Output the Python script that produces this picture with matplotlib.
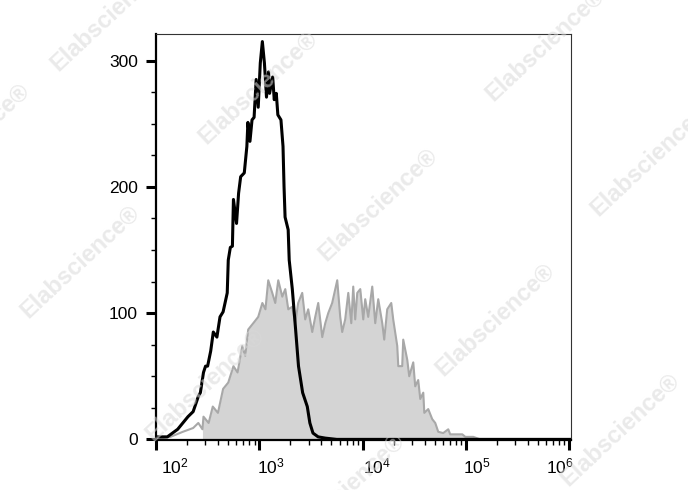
import numpy as np
import matplotlib
matplotlib.use("Agg")
import matplotlib.pyplot as plt
from matplotlib.ticker import FixedLocator, LogLocator, NullFormatter, MultipleLocator
from matplotlib.transforms import ScaledTranslation

plt.rcParams['font.family'] = ['Liberation Sans', 'DejaVu Sans']
plt.rcParams['mathtext.fontset'] = 'custom'
plt.rcParams['mathtext.rm'] = 'Liberation Sans'
plt.rcParams['mathtext.it'] = 'Liberation Sans'

# isotype control (black outline), log10 of intensity and counts
ctrl_log = [1.99, 2.11, 2.21, 2.26, 2.31, 2.36, 2.41, 2.43, 2.46, 2.48, 2.50, 2.53,
            2.555, 2.59, 2.62, 2.65, 2.69, 2.70, 2.72, 2.74, 2.75, 2.78, 2.80, 2.82,
            2.855, 2.88, 2.89, 2.91, 2.93, 2.95, 2.97, 2.99, 3.01, 3.03, 3.05, 3.07,
            3.09, 3.10, 3.13, 3.145, 3.165, 3.18, 3.21, 3.23, 3.24, 3.25, 3.28, 3.29,
            3.32, 3.35, 3.38, 3.42, 3.465, 3.49, 3.52, 3.57, 3.64, 3.75, 6.05]
ctrl_cnt = [2, 2, 8, 13, 18, 22, 34, 37, 53, 58, 58, 70,
            85, 81, 97, 101, 116, 142, 152, 153, 190, 171, 195, 208,
            211, 232, 251, 236, 253, 255, 285, 263, 298, 315, 298, 271,
            291, 274, 287, 269, 274, 257, 253, 232, 200, 176, 166, 142,
            119, 89, 58, 37, 26, 13, 5, 2, 1, 0, 0]

# stained sample (grey filled)
stain_log = [1.99, 2.14, 2.26, 2.36, 2.41, 2.45, 2.46, 2.51, 2.55, 2.60, 2.65, 2.70,
             2.75, 2.79, 2.835, 2.864, 2.893, 2.942, 2.99, 3.03, 3.06, 3.087, 3.126, 3.155,
             3.184, 3.223, 3.252, 3.281, 3.319, 3.348, 3.377, 3.416, 3.445, 3.474, 3.513, 3.542,
             3.571, 3.61, 3.639, 3.668, 3.706, 3.755, 3.784, 3.803, 3.832, 3.862, 3.891, 3.91,
             3.929, 3.949, 3.978, 4.007, 4.026, 4.055, 4.094, 4.123, 4.152, 4.191, 4.21, 4.239,
             4.278, 4.297, 4.336, 4.346, 4.384, 4.394, 4.433, 4.452, 4.491, 4.51, 4.539, 4.559,
             4.588, 4.598, 4.636, 4.675, 4.704, 4.733, 4.781, 4.83, 4.849, 4.917, 4.966, 4.995,
             5.072, 5.14, 6.05]
stain_cnt = [0, 2, 6, 9, 13, 8, 18, 13, 26, 21, 40, 45,
             58, 53, 74, 66, 87, 92, 97, 108, 103, 126, 116, 108,
             126, 113, 119, 103, 105, 92, 108, 116, 95, 103, 85, 97,
             108, 81, 92, 100, 108, 126, 97, 85, 95, 116, 92, 121,
             95, 116, 119, 95, 111, 97, 121, 92, 111, 92, 79, 103,
             108, 95, 74, 58, 58, 79, 63, 50, 61, 42, 47, 32,
             37, 21, 24, 16, 13, 6, 5, 8, 4, 4, 4, 2,
             2, 0, 0]
fill_start = 2.45  # grey fill begins here, outline only to the left

x_ticks = [1e2, 1e3, 1e4, 1e5, 1e6]
x_tick_labels = ['$10^{2}$', '$10^{3}$', '$10^{4}$', '$10^{5}$', '$10^{6}$']
y_ticks = [0, 100, 200, 300]

fig = plt.figure(figsize=(6.88, 4.90), dpi=100)
ax = fig.add_axes([0.2267, 0.102, 0.6035, 0.8286])

sx = 10 ** np.array(stain_log)
sy = np.array(stain_cnt)
ax.fill_between(sx, 0, sy, where=np.array(stain_log) >= fill_start,
                color='#d4d4d4', linewidth=0, zorder=1)
ax.plot(sx, sy, color='#a8a8a8', lw=1.5, zorder=2)
ax.plot(10 ** np.array(ctrl_log), ctrl_cnt, color='black', lw=2.2, zorder=3)

ax.set_xscale('log')
ax.set_xlim(10 ** 2.0, 10 ** 6.02)
ax.set_ylim(-0.5, 321)

ax.xaxis.set_major_locator(FixedLocator(x_ticks))
ax.set_xticklabels(x_tick_labels)
ax.xaxis.set_minor_locator(LogLocator(base=10, subs=np.arange(2, 10)))
ax.xaxis.set_minor_formatter(NullFormatter())
ax.set_yticks(y_ticks)
ax.yaxis.set_minor_locator(MultipleLocator(25))

ax.tick_params(which='major', direction='out', length=7, width=2.2, pad=5)
ax.tick_params(which='minor', direction='out', length=3.5, width=1.0)
ax.tick_params(axis='y', which='major', pad=6)
for lbl in ax.get_xticklabels() + ax.get_yticklabels():
    lbl.set_fontsize(12.5)

for s in ['left', 'bottom']:
    ax.spines[s].set_linewidth(1.6)
for s in ['top', 'right']:
    ax.spines[s].set_linewidth(0.8)
    ax.spines[s].set_color('#333333')

# nudge x labels like the original export
offsets = [19, 12, 14, 11, -9]
for lbl, dx in zip(ax.get_xticklabels(), offsets):
    lbl.set_transform(lbl.get_transform() + ScaledTranslation(dx / 100, 0, fig.dpi_scale_trans))

# watermarks
marks = [(110, 15), (258, 88), (-30, 140), (378, 205), (545, 45), (80, 262),
         (495, 320), (650, 160), (205, 385), (620, 430), (345, 490)]
for px, py in marks:
    fig.text(px / 688, 1 - py / 490, 'Elabscience\u00ae', fontsize=17, fontweight='bold',
             color='#d9d9d9', alpha=0.55, rotation=43, ha='center', va='center',
             zorder=10)

fig.savefig('out.png', dpi=100)
